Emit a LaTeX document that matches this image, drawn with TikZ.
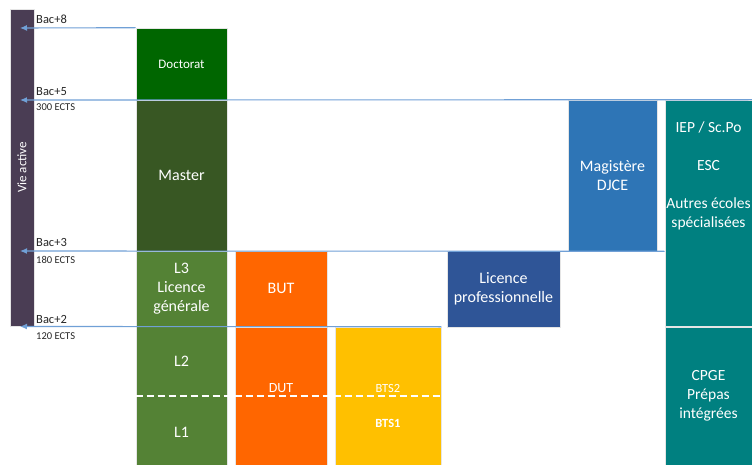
\documentclass[tikz,border=0pt]{standalone}
\usepackage{fontspec}
\setmainfont{Carlito}
\usepackage{xcolor}
\usepackage{tikz}
\usetikzlibrary{arrows.meta,calc}
\definecolor{vieviolet}{RGB}{74,61,84}
\definecolor{docgreen}{RGB}{0,102,0}
\definecolor{mastergreen}{RGB}{56,87,35}
\definecolor{licgreen}{RGB}{84,130,53}
\definecolor{iutorange}{RGB}{255,102,0}
\definecolor{btsyellow}{RGB}{255,192,0}
\definecolor{lpblue}{RGB}{47,85,151}
\definecolor{magblue}{RGB}{46,117,182}
\definecolor{ecoleteal}{RGB}{0,128,128}
\definecolor{linkblue}{RGB}{112,160,214}

\begin{document}
\begin{tikzpicture}[x=1pt, y=-1pt,
    cursus/.style={rectangle, draw=white!80!gray, line width=0.6pt, text=white, align=center, inner sep=0pt, font=\fontsize{16}{19}\selectfont},
    etiquette/.style={text=white, align=center, inner sep=0pt, font=\fontsize{16}{19}\selectfont},
    bac/.style={anchor=base west, inner sep=0pt, text=black!85, font=\fontsize{12.5}{14}\selectfont},
    ects/.style={anchor=base west, inner sep=0pt, text=black!85, font=\fontsize{10.5}{12}\selectfont},
    fleche/.style={draw=linkblue, line width=1.1pt, -{Latex[length=7pt,width=6pt]}}
]
\useasboundingbox (0,0) rectangle (752,465);

\node[cursus, fill=vieviolet, minimum width=317pt, minimum height=24pt, rotate=90, font=\fontsize{13}{15}\selectfont] (vie) at (22,167.5) {Vie active};

\node[cursus, fill=docgreen, minimum width=91pt, minimum height=72pt, font=\fontsize{13}{15}\selectfont] (doc) at (181.5,64) {Doctorat};
\node[cursus, fill=mastergreen, minimum width=91pt, minimum height=151pt] (master) at (181.5,175.5) {Master};
\node[cursus, fill=licgreen, minimum width=91pt, minimum height=75pt] (l3) at (181.5,288.5) {L3\\Licence\\générale};
\node[cursus, fill=licgreen, minimum width=91pt, minimum height=139pt] (l12) at (181.5,395.5) {};
\node[etiquette] (l2) at (181.5,361) {L2};
\node[etiquette] (l1) at (181.5,432) {L1};

\node[cursus, fill=iutorange, minimum width=92pt, minimum height=75pt] (but) at (281,288.5) {BUT};
\node[cursus, fill=iutorange, minimum width=92pt, minimum height=138pt] (dut) at (281,396) {};
\node[etiquette, font=\fontsize{14}{16}\selectfont] (dutl) at (281,388) {DUT};

\node[cursus, fill=btsyellow, minimum width=106pt, minimum height=138pt] (bts) at (388,396) {};
\node[etiquette, font=\fontsize{12.5}{14}\selectfont] (bts2) at (388,388) {BTS2};
\node[etiquette, font=\bfseries\fontsize{12.5}{14}\selectfont] (bts1) at (388,423) {BTS1};

\node[cursus, fill=lpblue, minimum width=113pt, minimum height=76pt] (lp) at (503.5,289) {Licence\\professionnelle};
\node[cursus, fill=magblue, minimum width=89pt, minimum height=151pt] (mag) at (612.5,175.5) {Magistère\\DJCE};

\node[cursus, fill=ecoleteal, minimum width=87pt, minimum height=226pt] (ecoles) at (708.5,213) {};
\node[etiquette, font=\fontsize{15.5}{19}\selectfont] (ecolesl) at (708.5,175.5) {IEP / Sc.Po\\[19pt]ESC\\[19pt]Autres écoles\\spécialisées};
\node[cursus, fill=ecoleteal, minimum width=87pt, minimum height=138pt, font=\fontsize{15.5}{19}\selectfont] (cpge) at (708.5,396) {CPGE\\Prépas\\intégrées};

% separation L1/L2, DUT, BTS1/BTS2
\draw[white, line width=2pt, dash pattern=on 7pt off 4pt] (l12.west) -- (l12.west -| bts.east);

% niveaux
\coordinate (b8) at (20,28);
\coordinate (b5) at (20,100);
\coordinate (b3) at (20,251);
\coordinate (b2) at (20,326.5);
\draw[fleche] (doc.north west) -- (b8);
\draw[fleche] (ecoles.north east) -- (b5);
\draw[fleche] (ecoles.west |- mag.south) -- (b3);
\draw[fleche] (bts.north east) -- (b2);

\node[bac] (lb8) at (36,24) {Bac+8};
\node[bac] (lb5) at (36,96) {Bac+5};
\node[ects] (e5) at (36,111) {300 ECTS};
\node[bac] (lb3) at (36,247) {Bac+3};
\node[ects] (e3) at (36,263) {180 ECTS};
\node[bac] (lb2) at (36,323) {Bac+2};
\node[ects] (e2) at (36,339) {120 ECTS};

\end{tikzpicture}
\end{document}
